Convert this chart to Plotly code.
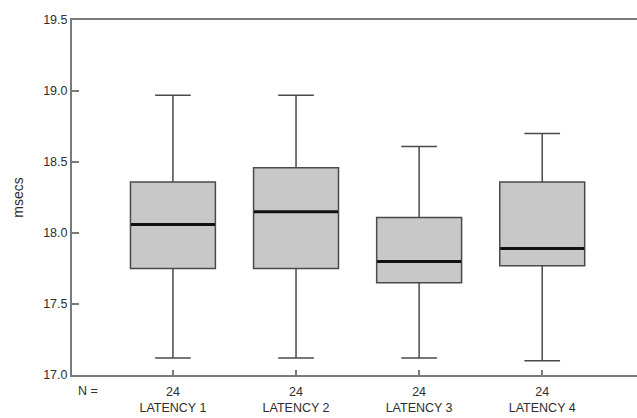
import plotly.graph_objects as go

# Box-plot summary statistics (msecs) for the four latency measures
groups = ["LATENCY 1", "LATENCY 2", "LATENCY 3", "LATENCY 4"]
n_obs = [24, 24, 24, 24]
lower_whisker = [17.12, 17.12, 17.12, 17.10]
q1 = [17.75, 17.75, 17.65, 17.77]
median = [18.06, 18.15, 17.80, 17.89]
q3 = [18.36, 18.46, 18.11, 18.36]
upper_whisker = [18.97, 18.97, 18.61, 18.70]

tick_labels = [f"{n}<br>{g}" for n, g in zip(n_obs, groups)]

FONT = "Liberation Sans, Arial, sans-serif"
AXIS_GREY = "#7a7a7a"
TEXT = "#2e2e2e"

fig = go.Figure()

fig.add_trace(go.Box(
    x=groups,
    q1=q1,
    median=median,
    q3=q3,
    lowerfence=lower_whisker,
    upperfence=upper_whisker,
    width=0.69,
    whiskerwidth=0.42,
    fillcolor="#c8c8c8",
    line=dict(color="#4a4a4a", width=1.5),
    boxpoints=False,
    hoverinfo="skip",
    showlegend=False,
))

# Heavier black median bars drawn over each box (line-ew spans 1.4 x size)
fig.add_trace(go.Scatter(
    x=groups,
    y=median,
    mode="markers",
    marker=dict(symbol="line-ew", size=60,
                line=dict(color="#111111", width=3)),
    hoverinfo="skip",
    showlegend=False,
    cliponaxis=False,
))

fig.add_annotation(
    text="N =", xref="paper", yref="paper",
    x=0, y=-0.045, xshift=4, xanchor="left", yanchor="middle",
    showarrow=False, font=dict(family=FONT, size=12.5, color=TEXT),
)

fig.update_layout(
    width=637, height=418,
    margin=dict(l=72, r=0, t=20, b=43, pad=0),
    paper_bgcolor="white", plot_bgcolor="white",
    font=dict(family=FONT, size=12, color=TEXT),
    showlegend=False,
)

fig.update_xaxes(
    type="category",
    categoryorder="array", categoryarray=groups,
    range=[-0.82, 3.77],
    tickmode="array", tickvals=groups, ticktext=tick_labels,
    ticks="inside", ticklen=5, tickcolor=AXIS_GREY, tickwidth=1.5,
    ticklabelstandoff=4,
    showline=True, linecolor=AXIS_GREY, linewidth=2, mirror=True,
    showgrid=False, zeroline=False,
    tickfont=dict(family=FONT, size=12.5, color=TEXT),
)

fig.update_yaxes(
    range=[17.0, 19.5],
    tickmode="array", tickvals=[17.0, 17.5, 18.0, 18.5, 19.0, 19.5],
    ticktext=["17.0", "17.5", "18.0", "18.5", "19.0", "19.5"],
    ticks="inside", ticklen=7, tickcolor=AXIS_GREY, tickwidth=1.5,
    showline=True, linecolor=AXIS_GREY, linewidth=2, mirror=False,
    showgrid=False, zeroline=False,
    title=dict(text="msecs", standoff=16, font=dict(family=FONT, size=14, color=TEXT)),
    tickfont=dict(family=FONT, size=12.5, color=TEXT),
)

fig.write_html("out.html", config={"displayModeBar": False})
